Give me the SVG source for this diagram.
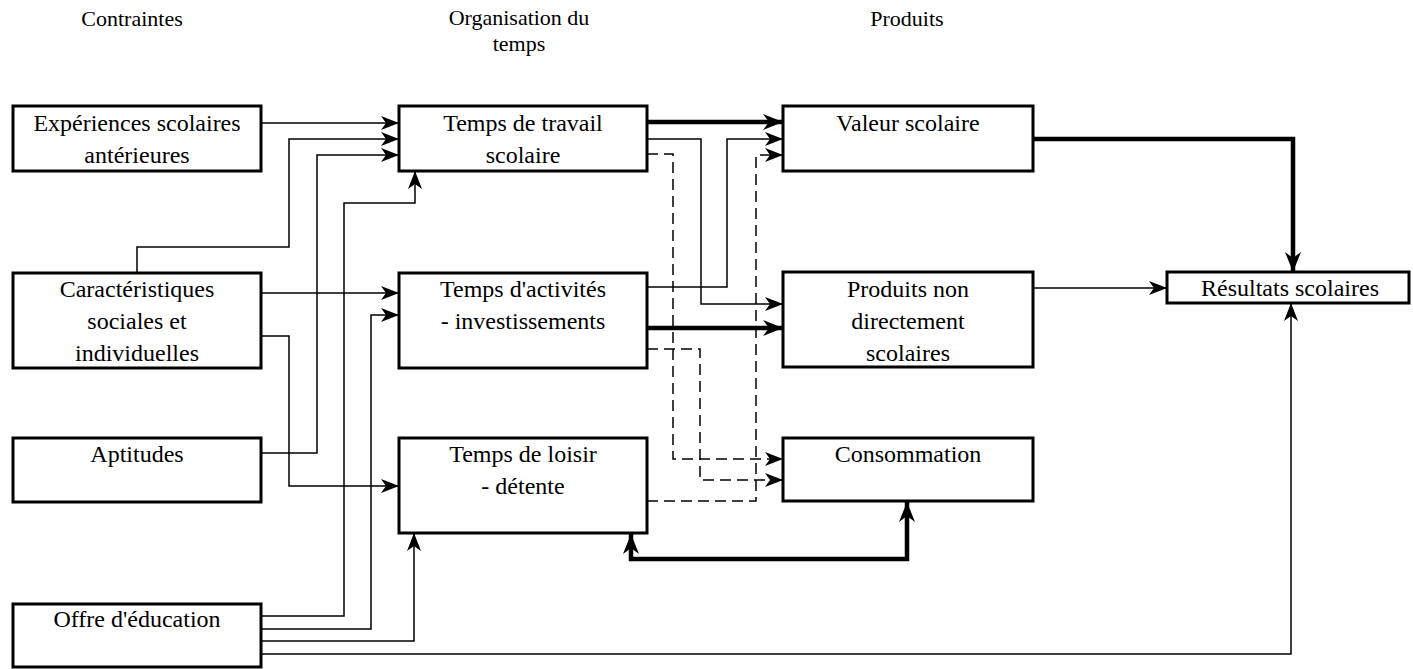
<svg xmlns="http://www.w3.org/2000/svg" width="1413" height="669" viewBox="0 0 1413 669">
<style>
text{font-family:"Liberation Serif","Times New Roman",serif;font-size:24px;fill:#000;text-anchor:middle}
.hd{font-size:22px}
.box{fill:#fff;stroke:#000;stroke-width:3}
.thin{fill:none;stroke:#000;stroke-width:1.5}
.thick{fill:none;stroke:#000;stroke-width:4.5}
.dash{fill:none;stroke:#000;stroke-width:1.5;stroke-dasharray:11 6}
</style>
<defs>
<marker id="a" markerUnits="userSpaceOnUse" markerWidth="20" markerHeight="14" refX="18" refY="7" orient="auto-start-reverse">
<path d="M0,0 L18,7 L0,14 L5,7 z" fill="#000"/>
</marker>
<marker id="b" markerUnits="userSpaceOnUse" markerWidth="22" markerHeight="16" refX="20" refY="8" orient="auto-start-reverse">
<path d="M0,0 L20,8 L0,16 L6,8 z" fill="#000"/>
</marker>
</defs>
<rect width="1413" height="669" fill="#fff"/>
<g id="headers">
<text class="hd" x="132" y="26">Contraintes</text>
<text class="hd" x="519" y="25">Organisation du</text>
<text class="hd" x="519" y="51">temps</text>
<text class="hd" x="907" y="26">Produits</text>
</g>
<g id="connectors">
<path class="thin" d="M261,123 H399" marker-end="url(#a)"/>
<path class="thin" d="M137,273 V247 H289 V139 H399" marker-end="url(#a)"/>
<path class="thin" d="M261,453 H317 V155 H399" marker-end="url(#a)"/>
<path class="thin" d="M261,616 H344 V203 H415 V171" marker-end="url(#a)"/>
<path class="thin" d="M261,293 H399" marker-end="url(#a)"/>
<path class="thin" d="M261,629 H371 V315 H399" marker-end="url(#a)"/>
<path class="thin" d="M261,336 H289 V486 H399" marker-end="url(#a)"/>
<path class="thin" d="M261,641 H414 V533" marker-end="url(#a)"/>
<path class="thin" d="M261,654 H1291 V303" marker-end="url(#a)"/>
<path class="thick" d="M647,122 H783" marker-end="url(#b)"/>
<path class="thin" d="M647,139 H701 V304 H783" marker-end="url(#a)"/>
<path class="thin" d="M647,287 H727 V139 H783" marker-end="url(#a)"/>
<path class="dash" d="M647,154 H673 V459 H783" marker-end="url(#a)"/>
<path class="dash" d="M647,501 H756 V155 H783" marker-end="url(#a)"/>
<path class="thick" d="M647,328 H783" marker-end="url(#b)"/>
<path class="dash" d="M647,349 H700 V480 H783" marker-end="url(#a)"/>
<path class="thick" d="M631,534 V559 H907 V502" marker-start="url(#b)" marker-end="url(#b)"/>
<path class="thick" d="M1033,139 H1293 V272" marker-end="url(#b)"/>
<path class="thin" d="M1033,288 H1167" marker-end="url(#a)"/>
</g>
<g id="exp"><rect class="box" x="13" y="106" width="248" height="65"/><text x="137" y="131">Expériences scolaires</text><text x="137" y="163">antérieures</text></g>
<g id="car"><rect class="box" x="13" y="273" width="248" height="95"/><text x="137" y="297">Caractéristiques</text><text x="137" y="329">sociales et</text><text x="137" y="361">individuelles</text></g>
<g id="apt"><rect class="box" x="13" y="438" width="248" height="64"/><text x="137" y="462">Aptitudes</text></g>
<g id="off"><rect class="box" x="13" y="604" width="248" height="63"/><text x="137" y="627">Offre d'éducation</text></g>
<g id="ttr"><rect class="box" x="399" y="106" width="248" height="65"/><text x="523" y="131">Temps de travail</text><text x="523" y="163">scolaire</text></g>
<g id="tact"><rect class="box" x="399" y="273" width="248" height="95"/><text x="523" y="297">Temps d'activités</text><text x="523" y="329">- investissements</text></g>
<g id="tlo"><rect class="box" x="399" y="438" width="248" height="95"/><text x="523" y="462">Temps de loisir</text><text x="523" y="494">- détente</text></g>
<g id="val"><rect class="box" x="783" y="106" width="250" height="65"/><text x="908" y="131">Valeur scolaire</text></g>
<g id="pnd"><rect class="box" x="783" y="272" width="250" height="95"/><text x="908" y="297">Produits non</text><text x="908" y="329">directement</text><text x="908" y="361">scolaires</text></g>
<g id="cons"><rect class="box" x="783" y="438" width="250" height="63"/><text x="908" y="462">Consommation</text></g>
<g id="res"><rect class="box" x="1167" y="272" width="242" height="31"/><text x="1290" y="296">Résultats scolaires</text></g>
</svg>
